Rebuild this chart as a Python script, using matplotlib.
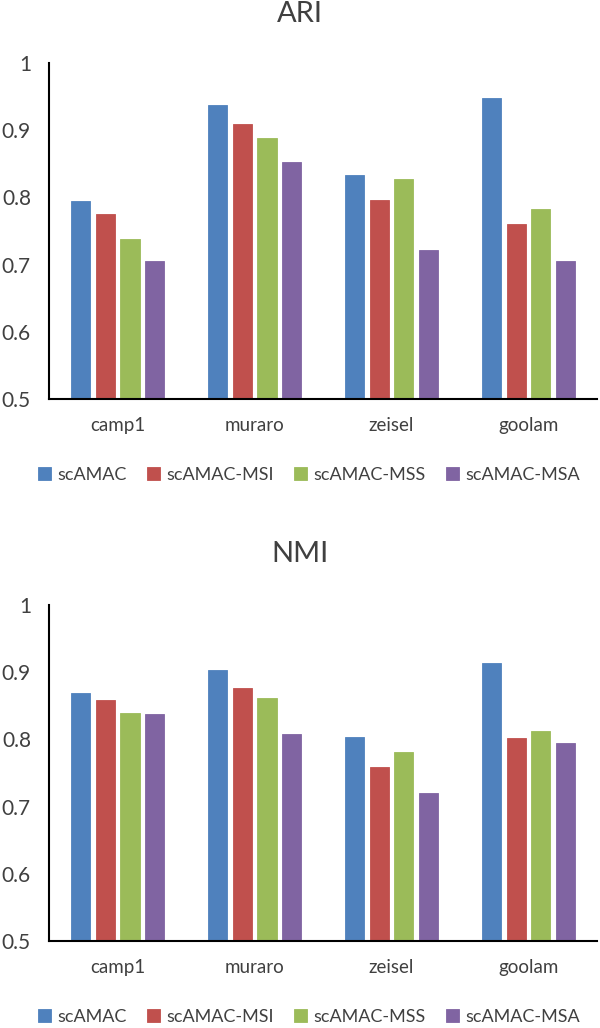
import numpy as np
from matplotlib import pyplot as plt

plt.rcParams['font.family'] = ['Lato', 'DejaVu Sans']

datasets = ["camp1", "muraro", "zeisel", "goolam"]
methods = ["scAMAC", "scAMAC-MSI", "scAMAC-MSS", "scAMAC-MSA"]
colors = ["#4F81BD", "#C0504D", "#9BBB59", "#8064A2"]

ari = {
    "scAMAC":     [0.794, 0.937, 0.833, 0.948],
    "scAMAC-MSI": [0.775, 0.909, 0.796, 0.760],
    "scAMAC-MSS": [0.738, 0.888, 0.828, 0.782],
    "scAMAC-MSA": [0.705, 0.853, 0.721, 0.706],
}
nmi = {
    "scAMAC":     [0.869, 0.903, 0.803, 0.913],
    "scAMAC-MSI": [0.858, 0.877, 0.759, 0.802],
    "scAMAC-MSS": [0.840, 0.861, 0.781, 0.812],
    "scAMAC-MSA": [0.838, 0.808, 0.720, 0.794],
}
yticks = [0.5, 0.6, 0.7, 0.8, 0.9, 1.0]
ylabels = ["0.5", "0.6", "0.7", "0.8", "0.9", "1"]

txt = "#404040"
fig = plt.figure(figsize=(6, 10.28), dpi=100)

panels = [("ARI", ari, 0.6119, 0.9387, 0.986, 0.538),
          ("NMI", nmi, 0.0846, 0.4115, 0.461, 0.0107)]

x = np.arange(len(datasets))
w = 0.141
step = 0.18

for title, data, bot, top, ty, ly in panels:
    ax = fig.add_axes([0.0817, bot, 0.995 - 0.0817, top - bot])
    handles = []
    for i, m in enumerate(methods):
        b = ax.bar(x + (i - 1.5) * step, np.array(data[m]) - 0.5, bottom=0.5,
                   width=w, color=colors[i], edgecolor=colors[i], linewidth=0.6,
                   label=m)
        handles.append(b)
    ax.set_ylim(0.5, 1.0)
    ax.set_xlim(-0.5, 3.5)
    ax.set_yticks(yticks)
    ax.set_yticklabels(ylabels)
    ax.set_xticks(x)
    ax.set_xticklabels(datasets)
    ax.tick_params(length=0, labelsize=13.5, colors=txt)
    ax.tick_params(axis='y', pad=13, labelsize=15)
    ax.tick_params(axis='x', pad=13)
    for s in ["top", "right"]:
        ax.spines[s].set_visible(False)
    for s in ["left", "bottom"]:
        ax.spines[s].set_linewidth(1.5)
        ax.spines[s].set_color("black")
    fig.text(0.5, ty, title, ha='center', va='center', fontsize=21, color=txt)
    fig.legend(handles, methods, loc='center', bbox_to_anchor=(0.515, ly),
               ncol=4, frameon=False, fontsize=13, handlelength=0.75,
               handleheight=0.75, handletextpad=0.35, columnspacing=1.1,
               labelcolor=txt)

fig.savefig("out.png", dpi=100)
